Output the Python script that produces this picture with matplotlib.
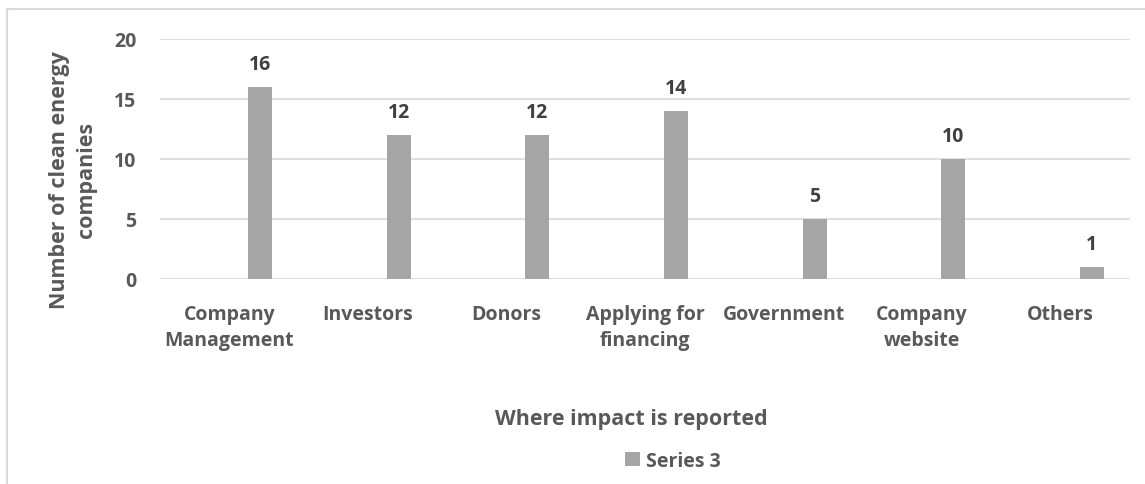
import matplotlib
matplotlib.use("Agg")
import matplotlib.pyplot as plt
from matplotlib.patches import Rectangle

# =========================
# Data
# =========================
categories = [
    "Company\nManagement",
    "Investors",
    "Donors",
    "Applying for\nfinancing",
    "Government",
    "Company\nwebsite",
    "Others",
]
counts = [16, 12, 12, 14, 5, 10, 1]
series_name = "Series 3"

y_ticks = [0, 5, 10, 15, 20]

# =========================
# Style
# =========================
plt.rcParams["font.family"] = ["Open Sans", "DejaVu Sans"]
plt.rcParams["font.weight"] = "bold"
text_color = "#595959"
bar_color = "#A5A5A5"
grid_color = "#D9D9D9"

W, H = 1145, 485
fig = plt.figure(figsize=(W / 100, H / 100), dpi=100)

# chart border (cut at right/bottom)
fig.patches.append(Rectangle((7 / W, -0.1), 1.2, 1 - 10 / H + 0.1,
                             transform=fig.transFigure, fill=False,
                             edgecolor=grid_color, linewidth=1.5))

ax = fig.add_axes([160 / W, 1 - 280 / H, 970 / W, 240 / H])

# bars sit right of category centre (third slot of a clustered group)
x = list(range(len(categories)))
bar_x = [i + 0.224 for i in x]
bars = ax.bar(bar_x, counts, width=0.173, color=bar_color, label=series_name, zorder=3)

for bx, v in zip(bar_x, counts):
    ax.annotate(str(v), (bx, v), xytext=(0, 9), textcoords="offset points",
                ha="center", va="bottom", fontsize=14, fontweight="bold",
                color="#404040")

# =========================
# Axis formatting
# =========================
ax.set_xlim(-0.5, len(categories) - 0.5)
ax.set_ylim(0, 20)
ax.set_yticks(y_ticks)
ax.set_xticks(x)
ax.set_xticklabels(categories, fontsize=14, color=text_color, linespacing=1.4)
ax.tick_params(axis="x", length=0, pad=18)
ax.tick_params(axis="y", length=0, pad=17, labelsize=14, labelcolor=text_color)
for lbl in ax.get_yticklabels():
    lbl.set_fontweight("bold")
for lbl in ax.get_xticklabels():
    lbl.set_fontweight("bold")

ax.grid(axis="y", color=grid_color, linewidth=1.2, zorder=0)
for s in ax.spines.values():
    s.set_visible(False)

fig.text(73 / W, 1 - 180 / H, "Number of clean energy\ncompanies", rotation=90,
         ha="center", va="center", multialignment="center", fontsize=15.5,
         fontweight="bold", color=text_color, linespacing=1.35)

fig.text(631 / W, 1 - 420 / H, "Where impact is reported", ha="center", va="center",
         fontsize=15.5, fontweight="bold", color=text_color)

fig.legend(handles=[bars], labels=[series_name], loc="center", bbox_to_anchor=(673 / W, 1 - 462 / H),
           frameon=False, handlelength=0.75, handleheight=0.75, handletextpad=0.3,
           prop={"size": 14, "weight": "bold"}, labelcolor=text_color)

fig.savefig("out.png", dpi=100)
